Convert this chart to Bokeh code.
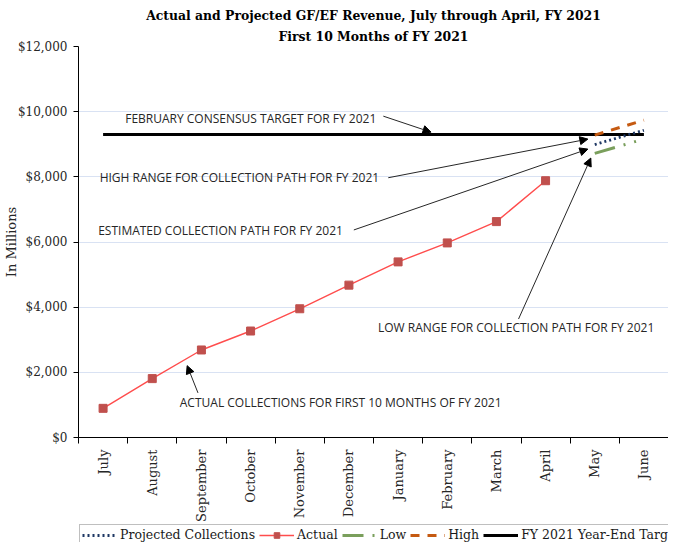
import math
from bokeh.plotting import figure
from bokeh.layouts import column
from bokeh.models import (FixedTicker, NumeralTickFormatter, Title,
                          Legend, LegendItem, Arrow, NormalHead, Range1d)
from bokeh.embed import file_html
from bokeh.resources import INLINE
from bokeh.core.properties import value

# ---------------- data ----------------
months = ["July", "August", "September", "October", "November", "December",
          "January", "February", "March", "April", "May", "June"]
actual_months = months[:10]
actual = [895, 1807, 2686, 3268, 3951, 4676, 5390, 5972, 6626, 7881]
proj_months = ["May", "June"]
projected = [8990, 9430]
low = [8720, 9160]
high = [9280, 9740]
target_months = ["July", "June"]
target = [9300, 9300]
y_ticks = [0, 2000, 4000, 6000, 8000, 10000, 12000]

# annotation texts and arrows (data coordinates)
notes = ["FEBRUARY CONSENSUS TARGET FOR FY 2021",
         "HIGH RANGE FOR COLLECTION PATH FOR FY 2021",
         "ESTIMATED COLLECTION PATH FOR FY 2021",
         "LOW RANGE FOR COLLECTION PATH FOR FY 2021",
         "ACTUAL COLLECTIONS FOR FIRST 10 MONTHS OF FY 2021"]
note_x = [0.95, 0.43, 0.40, 6.09, 2.06]
note_y = [9800, 7994, 6349, 3369, 1072]
arrow_x0 = [6.2, 6.3, 5.6, 8.95, 2.43]
arrow_y0 = [9862, 7972, 6370, 3636, 1369]
arrow_x1 = [7.17, 10.36, 10.36, 10.42, 2.21]
arrow_y1 = [9372, 9158, 8851, 8576, 2205]

pos = {m: i + 0.5 for i, m in enumerate(months)}

SERIF = "DejaVu Serif"
C_PROJ, C_ACT_LINE, C_ACT_MARK = "#1f3864", "#ff4d4d", "#c0504d"
C_LOW, C_HIGH = "#7a9f5c", "#c55a11"
DASH_PROJ, DASH_LOW, DASH_HIGH = "2 3", "21 9 2 9 2 9", "9 8"


def draw_series(fig):
    """Draw all series on a figure; returns renderers for the legend."""
    r_tgt = fig.line([pos[m] for m in target_months], target, line_color="black", line_width=3)
    r_act_l = fig.line([pos[m] for m in actual_months], actual, line_color=C_ACT_LINE,
                       line_width=1.4)
    r_act_m = fig.scatter([pos[m] for m in actual_months], actual, marker="square", size=8,
                          fill_color=C_ACT_MARK, line_color=C_ACT_MARK)
    r_proj = fig.line([pos[m] for m in proj_months], projected, line_color=C_PROJ,
                      line_width=2.8, line_dash=DASH_PROJ)
    r_low = fig.line([pos[m] for m in proj_months], low, line_color=C_LOW,
                     line_width=3, line_dash=DASH_LOW)
    r_high = fig.line([pos[m] for m in proj_months], high, line_color=C_HIGH,
                      line_width=3, line_dash=DASH_HIGH)
    return r_proj, r_act_l, r_act_m, r_low, r_high, r_tgt


p = figure(width=668, height=524, x_range=Range1d(0, 12), y_range=Range1d(0, 12000),
           output_backend="svg", toolbar_location=None,
           min_border_left=72, min_border_right=0, min_border_top=46,
           min_border_bottom=86)
p.outline_line_color = None
p.background_fill_color = "white"

# titles
p.title.text = "Actual and Projected GF/EF Revenue, July through April, FY 2021"
p.title.align = "center"
p.title.text_font = SERIF
p.title.text_font_size = "12.4px"
p.title.text_font_style = "bold"
p.title.text_color = "black"
p.title.standoff = 3
p.add_layout(Title(text="First 10 Months of FY 2021",
                   align="center", text_font=SERIF, text_font_size="12.4px",
                   text_font_style="bold", text_color="black", standoff=5), "above")

# grid
p.xgrid.visible = False
p.ygrid.ticker = FixedTicker(ticks=y_ticks)
p.ygrid.grid_line_color = "#d9e2f3"
p.ygrid.grid_line_width = 1

# y axis
p.yaxis.ticker = FixedTicker(ticks=y_ticks)
p.yaxis.formatter = NumeralTickFormatter(format="$0,0")
p.yaxis.axis_label = "In Millions"
p.yaxis.axis_label_text_font = SERIF
p.yaxis.axis_label_text_font_size = "13px"
p.yaxis.axis_label_text_font_style = "normal"
p.yaxis.axis_label_text_color = "#262626"
p.yaxis.axis_label_standoff = -4
p.yaxis.major_label_text_font = SERIF
p.yaxis.major_label_text_font_size = "12px"
p.yaxis.major_label_text_color = "#262626"
p.yaxis.major_tick_out = 5
p.yaxis.major_tick_in = 0
p.yaxis.minor_tick_line_color = None
p.yaxis.axis_line_color = "black"
p.yaxis.major_tick_line_color = "black"
p.yaxis.major_label_standoff = 6

# x axis
p.xaxis.ticker = FixedTicker(ticks=[pos[m] for m in months],
                             minor_ticks=list(range(len(months) + 1)))
p.xaxis.major_label_overrides = {pos[m]: m for m in months}
p.xaxis.major_label_orientation = math.pi / 2
p.xaxis.major_label_text_font = SERIF
p.xaxis.major_label_text_font_size = "13px"
p.xaxis.major_label_text_color = "#262626"
p.xaxis.major_tick_out = 0
p.xaxis.major_tick_in = 0
p.xaxis.minor_tick_out = 6
p.xaxis.minor_tick_in = 0
p.xaxis.minor_tick_line_color = "black"
p.xaxis.axis_line_color = "black"
p.xaxis.major_label_standoff = 6

draw_series(p)

# annotations
for i in range(len(notes)):
    p.add_layout(Arrow(end=NormalHead(size=8, fill_color="black", line_color="black", line_width=1),
                       x_start=arrow_x0[i], y_start=arrow_y0[i],
                       x_end=arrow_x1[i], y_end=arrow_y1[i],
                       line_color="#262626", line_width=1))
p.text(x=note_x, y=note_y, text=notes, text_font=value("Open Sans"),
       text_font_size="12px", text_baseline="middle", text_align="left",
       text_color="#262626")

# ---------------- legend strip (series drawn outside its view, legend only) ----------------
lg = figure(width=668, height=18, x_range=Range1d(-2, -1), y_range=Range1d(-2, -1),
            output_backend="svg", toolbar_location=None, min_border=0,
            x_axis_location=None, y_axis_location=None)
lg.outline_line_color = None
lg.grid.visible = False
k_proj, k_act_l, k_act_m, k_low, k_high, k_tgt = draw_series(lg)

legend = Legend(items=[
    LegendItem(label="Projected Collections", renderers=[k_proj]),
    LegendItem(label="Actual", renderers=[k_act_l, k_act_m]),
    LegendItem(label="Low", renderers=[k_low]),
    LegendItem(label="High", renderers=[k_high]),
    LegendItem(label="FY 2021 Year-End Target", renderers=[k_tgt]),
], orientation="horizontal", location=(1, -3), glyph_width=35, glyph_height=14,
    label_standoff=3, spacing=4, padding=2, margin=0,
    border_line_color="#7f7f7f", border_line_width=1.5,
    label_text_font=SERIF, label_text_font_size="12.5px", label_height=14,
    label_text_color="#1a1a1a", background_fill_color="white")
lg.add_layout(legend, "center")

layout = column(p, lg, spacing=0)
open("out.html", "w").write(file_html(layout, INLINE))
